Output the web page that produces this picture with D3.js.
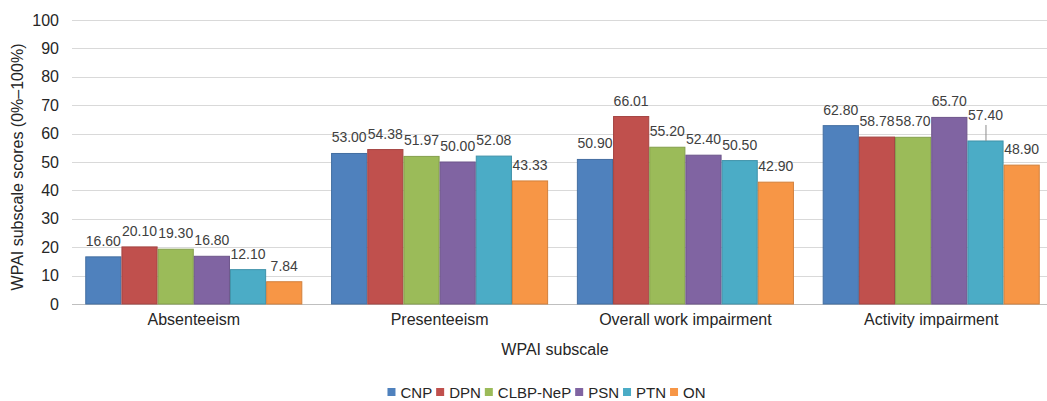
<!DOCTYPE html>
<html>
<head>
<meta charset="utf-8">
<script src="https://cdn.jsdelivr.net/npm/d3@7"></script>
<style>
  html, body { margin: 0; padding: 0; background: #fff; }
  svg { display: block; font-family: "Liberation Sans", Arial, sans-serif; }
</style>
</head>
<body>
<svg id="chart" width="1047" height="401"></svg>
<script>
// ---- data ----
const categories = ["Absenteeism", "Presenteeism", "Overall work impairment", "Activity impairment"];
const seriesNames = ["CNP", "DPN", "CLBP-NeP", "PSN", "PTN", "ON"];
const seriesColors = ["#4F81BD", "#C0504D", "#9BBB59", "#8064A2", "#4BACC6", "#F79646"];
const CNP = [16.60, 53.00, 50.90, 62.80];
const DPN = [20.10, 54.38, 66.01, 58.78];
const CLBP_NeP = [19.30, 51.97, 55.20, 58.70];
const PSN = [16.80, 50.00, 52.40, 65.70];
const PTN = [12.10, 52.08, 50.50, 57.40];
const ON = [7.84, 43.33, 42.90, 48.90];
const yTicks = [0, 10, 20, 30, 40, 50, 60, 70, 80, 90, 100];
const yTitle = "WPAI subscale scores (0%–100%)";
const xTitle = "WPAI subscale";

const seriesValues = [CNP, DPN, CLBP_NeP, PSN, PTN, ON];

// ---- layout ----
const svg = d3.select("#chart");
const W = 1047;
const gridLeft = 72;

const x0 = d3.scaleBand().domain(categories).range([71, 1054]).paddingInner(0.117).paddingOuter(0.058);
const x1 = d3.scaleBand().domain(seriesNames).range([0, x0.bandwidth()]).padding(0);
const y = d3.scaleLinear().domain([0, 100]).range([304, 20]);

// gridlines
svg.append("g").selectAll("line").data(yTicks).join("line")
  .attr("x1", gridLeft).attr("x2", W)
  .attr("y1", d => Math.round(y(d)) + 0.5).attr("y2", d => Math.round(y(d)) + 0.5)
  .attr("stroke", d => d === 0 ? "#bfbfbf" : "#d9d9d9").attr("stroke-width", 1);

// y axis labels
const yAxis = d3.axisLeft(y).tickValues(yTicks).tickSize(0).tickPadding(0);
const yg = svg.append("g").attr("transform", "translate(59,0)").call(yAxis);
yg.select(".domain").remove();
yg.selectAll("text").attr("font-size", 16).attr("fill", "#262626")
  .attr("font-family", "Liberation Sans, Arial, sans-serif");

// x axis labels
const xAxis = d3.axisBottom(x0).tickSize(0).tickPadding(0);
const xg = svg.append("g").attr("transform", "translate(0,314)").call(xAxis);
xg.select(".domain").remove();
xg.selectAll("text").attr("font-size", 16).attr("fill", "#262626")
  .attr("font-family", "Liberation Sans, Arial, sans-serif");

// bars
const rows = [];
categories.forEach((c, ci) => {
  seriesNames.forEach((s, si) => {
    rows.push({ cat: c, ci, ser: s, si, v: seriesValues[si][ci] });
  });
});

svg.append("g").selectAll("rect").data(rows).join("rect")
  .attr("x", d => x0(d.cat) + x1(d.ser) + 0.5)
  .attr("y", d => y(d.v))
  .attr("width", x1.bandwidth() - 1)
  .attr("height", d => y(0) - y(d.v))
  .attr("fill", d => seriesColors[d.si])
  .attr("stroke", d => d3.color(seriesColors[d.si]).darker(0.45))
  .attr("stroke-width", 1);

// data labels (the PTN label of "Activity impairment" is lifted with a leader line)
const lifted = { ci: 3, si: 4, lift: 10 };
const isLifted = d => d.ci === lifted.ci && d.si === lifted.si;

svg.append("g").selectAll("text").data(rows).join("text")
  .attr("x", d => x0(d.cat) + x1(d.ser) + x1.bandwidth() / 2)
  .attr("y", d => y(d.v) - 11 - (isLifted(d) ? lifted.lift : 0))
  .attr("text-anchor", "middle")
  .attr("font-size", 14)
  .attr("fill", "#404040")
  .text(d => d.v.toFixed(2));

svg.append("g").selectAll("line").data(rows.filter(isLifted)).join("line")
  .attr("x1", d => x0(d.cat) + x1(d.ser) + x1.bandwidth() / 2 + 0.5)
  .attr("x2", d => x0(d.cat) + x1(d.ser) + x1.bandwidth() / 2 + 0.5)
  .attr("y1", d => y(d.v) - 11 - lifted.lift + 5)
  .attr("y2", d => y(d.v))
  .attr("stroke", "#8c8c8c").attr("stroke-width", 1);

// axis titles
svg.append("text")
  .attr("transform", `translate(23,${(y(0) + y(100)) / 2 + 5}) rotate(-90)`)
  .attr("text-anchor", "middle").attr("font-size", 16).attr("fill", "#262626")
  .text(yTitle);

svg.append("text")
  .attr("x", 555).attr("y", 355)
  .attr("text-anchor", "middle").attr("font-size", 16).attr("fill", "#262626")
  .text(xTitle);

// legend
const legend = svg.append("g");
const sq = 8, gapText = 5, gapItem = 4, legFont = 15;
const items = legend.selectAll("g").data(seriesNames).join("g");
items.append("rect").attr("width", sq).attr("height", sq).attr("y", -sq / 2)
  .attr("fill", (d, i) => seriesColors[i]);
items.append("text").attr("x", sq + gapText).attr("y", 5.5)
  .attr("font-size", legFont).attr("fill", "#262626").text(d => d);
let cx = 0;
items.each(function () {
  const w = this.getBBox().width;
  d3.select(this).attr("transform", `translate(${cx},0)`);
  cx += w + gapItem;
});
const totalW = cx - gapItem;
legend.attr("transform", `translate(${546.5 - totalW / 2},392)`);
</script>
</body>
</html>
